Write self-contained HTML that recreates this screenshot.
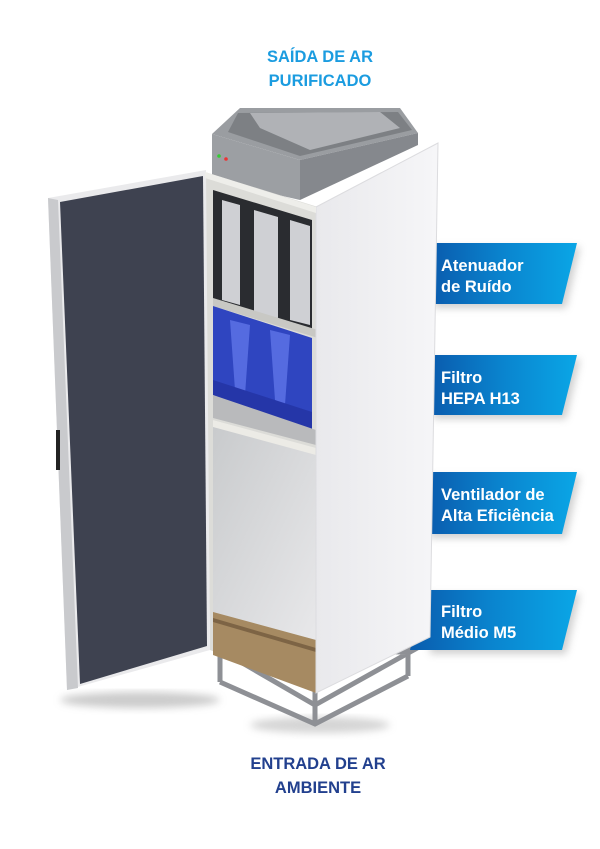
<!DOCTYPE html>
<html><head><meta charset="utf-8"><style>
html,body{margin:0;padding:0;background:#fff;}
svg{display:block}
text{font-family:"Liberation Sans",sans-serif;font-weight:bold;}
</style></head><body>
<svg width="600" height="849" viewBox="0 0 600 849" xmlns="http://www.w3.org/2000/svg">
<defs>
<linearGradient id="lab" x1="0" x2="1" y1="0" y2="0">
<stop offset="0" stop-color="#0a5cae"/><stop offset="0.5" stop-color="#0a85cf"/><stop offset="1" stop-color="#0aa6e6"/>
</linearGradient>
<linearGradient id="side" x1="0" x2="1" y1="0" y2="0">
<stop offset="0" stop-color="#e9e9ec"/><stop offset="1" stop-color="#f6f6f8"/>
</linearGradient>
<linearGradient id="lower" x1="0" x2="1" y1="0" y2="1">
<stop offset="0" stop-color="#c8cacc"/><stop offset="1" stop-color="#e8e8ea"/>
</linearGradient>
<filter id="sh" x="-20%" y="-20%" width="140%" height="160%"><feGaussianBlur stdDeviation="4"/></filter>
</defs>

<text x="320" y="62" text-anchor="middle" font-size="16.5" fill="#1b9ce0">SAÍDA DE AR</text>
<text x="320" y="86" text-anchor="middle" font-size="16.5" fill="#1b9ce0">PURIFICADO</text>
<text x="318" y="769" text-anchor="middle" font-size="16.5" fill="#22408e">ENTRADA DE AR</text>
<text x="318" y="793" text-anchor="middle" font-size="16.5" fill="#22408e">AMBIENTE</text>

<!-- shadows -->
<ellipse cx="140" cy="700" rx="80" ry="8" fill="#999" opacity="0.5" filter="url(#sh)"/>
<ellipse cx="320" cy="725" rx="70" ry="8" fill="#aaa" opacity="0.5" filter="url(#sh)"/>

<!-- stand -->
<g fill="none" stroke="#8e9095" stroke-width="5">
<polygon points="220,650 315,705 410,652"/>
<line x1="220" y1="640" x2="220" y2="682"/>
<line x1="315" y1="690" x2="315" y2="724"/>
<line x1="408" y1="640" x2="408" y2="676"/>
<polyline points="220,682 315,724 408,676"/>
</g>

<!-- top box -->
<polygon points="212,134 240,108 400,108 418,133 300,160" fill="#9a9da1"/>
<polygon points="238,113 398,112 412,130 300,156 228,132" fill="#7d8084"/>
<polygon points="250,113 380,112 400,128 310,150 260,128" fill="#b0b2b6"/>
<polygon points="212,134 300,160 300,200 212,180" fill="#9c9fa3"/>
<polygon points="300,160 418,133 418,145 300,200" fill="#85888d"/>
<circle cx="219" cy="156" r="1.8" fill="#3c3"/><circle cx="226" cy="159" r="1.8" fill="#e33"/>

<!-- interior front -->
<polygon points="205,172 318,207 318,693 210,650" fill="#dcdcd8"/>
<polygon points="213,190 312,220 312,330 213,300" fill="#2a2c30"/>
<polygon points="222,200 240,205 240,305 222,300" fill="#cfd0d4"/>
<polygon points="254,210 278,217 278,318 254,312" fill="#cfd0d4"/>
<polygon points="290,220 310,226 310,325 290,320" fill="#cfd0d4"/>
<polygon points="213,298 318,330 318,338 213,306" fill="#c8c8c4"/>
<polygon points="213,306 312,338 312,430 213,395" fill="#2f45c0"/>
<polygon points="230,320 250,325 245,395 235,390" fill="#556be0"/>
<polygon points="270,330 290,335 285,405 275,400" fill="#556be0"/>
<polygon points="213,380 312,412 312,432 213,395" fill="#2536a8"/>
<polygon points="213,395 316,430 316,445 213,418" fill="#b9babc"/>
<polygon points="213,420 316,448 316,640 213,612" fill="url(#lower)"/>
<polygon points="213,420 316,448 316,455 213,427" fill="#ecebe6"/>
<polygon points="213,612 316,640 316,693 213,655" fill="#a68a62"/>
<polygon points="213,618 316,648 316,652 213,622" fill="#7d6445"/>

<!-- door -->
<polygon points="48,198 206,170 210,650 67,690" fill="#eaeaec"/>
<polygon points="48,198 58,200 78,688 67,690" fill="#c9cacd"/>
<polygon points="60,202 203,176 207,646 80,684" fill="#3e4250"/>
<rect x="56" y="430" width="4" height="40" fill="#222"/>

<!-- labels -->
<g>
<polygon points="434,247 580,247 566,308 434,308" fill="#888" opacity="0.4" filter="url(#sh)"/>
<polygon points="432,243 577,243 562,304 432,304" fill="url(#lab)"/>
<text x="441" y="271" font-size="16.5" fill="#fff">Atenuador</text>
<text x="441" y="292" font-size="16.5" fill="#fff">de Ruído</text>

<polygon points="434,359 580,359 566,419 434,419" fill="#888" opacity="0.4" filter="url(#sh)"/>
<polygon points="432,355 577,355 562,415 432,415" fill="url(#lab)"/>
<text x="441" y="383" font-size="16.5" fill="#fff">Filtro</text>
<text x="441" y="404" font-size="16.5" fill="#fff">HEPA H13</text>

<polygon points="430,476 580,476 566,538 430,538" fill="#888" opacity="0.4" filter="url(#sh)"/>
<polygon points="428,472 577,472 562,534 428,534" fill="url(#lab)"/>
<text x="441" y="500" font-size="16.5" fill="#fff">Ventilador de</text>
<text x="441" y="521" font-size="16.5" fill="#fff">Alta Eficiência</text>

<polygon points="430,594 580,594 566,654 430,654" fill="#888" opacity="0.4" filter="url(#sh)"/>
<polygon points="424,590 577,590 562,650 410,650" fill="url(#lab)"/>
<text x="441" y="617" font-size="16.5" fill="#fff">Filtro</text>
<text x="441" y="638" font-size="16.5" fill="#fff">Médio M5</text>
</g>

<!-- right side panel (on top) -->
<polygon points="316,207 438,143 430,637 316,693" fill="url(#side)" stroke="#dcdcdf" stroke-width="1"/>
<polygon points="205,172 316,207 316,213 205,178" fill="#eeeeea"/>
</svg>
</body></html>
